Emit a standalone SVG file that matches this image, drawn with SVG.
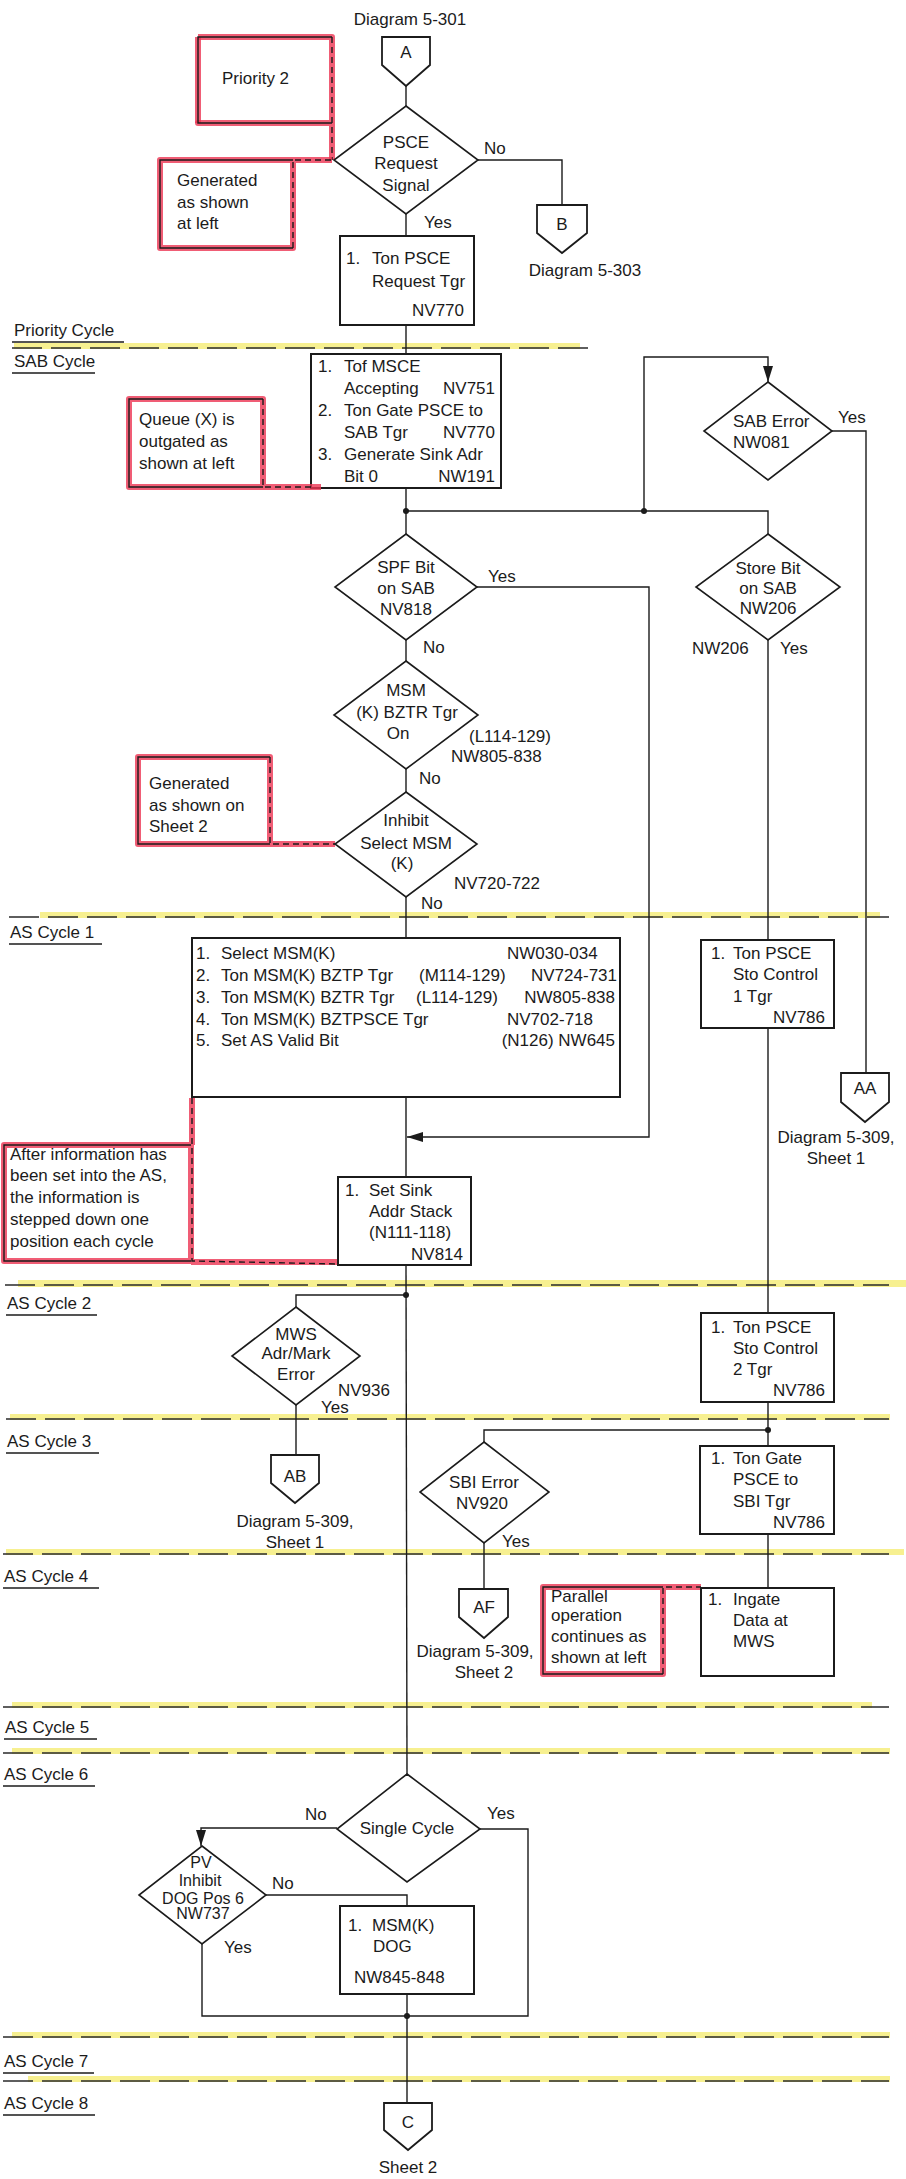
<svg xmlns="http://www.w3.org/2000/svg" width="906" height="2179" viewBox="0 0 906 2179">
<style>
  .bg{fill:#fff}
  .box{fill:#fff;stroke:#1b1b1b;stroke-width:2}
  .dia{fill:#fff;stroke:#1b1b1b;stroke-width:1.6}
  .off{fill:#fff;stroke:#1b1b1b;stroke-width:1.8}
  .ln{fill:none;stroke:#1b1b1b;stroke-width:1.4}
  .dash{stroke-dasharray:6 4}
  .hl{fill:none;stroke:#ec3552;stroke-width:6;stroke-opacity:.8;stroke-linejoin:round}
  .cyc{fill:none;stroke:#2a2a2a;stroke-width:1.6;stroke-dasharray:30 9}
  .yel{fill:#f5ec74;opacity:.8}
  .ul{stroke:#1b1b1b;stroke-width:1.6}
  .dot{fill:#1b1b1b}
  text{font-family:"Liberation Sans",Arial,sans-serif;font-size:17px;fill:#1b1b1b}
  .m{text-anchor:middle}
  .e{text-anchor:end}
  .s{font-size:16px}
</style>
<defs>
  <marker id="arrow" viewBox="0 0 16 10" markerWidth="16" markerHeight="10" refX="16" refY="5" orient="auto" markerUnits="userSpaceOnUse">
    <path d="M0,0 L16,5 L0,10 Z" fill="#1b1b1b"/>
  </marker>
</defs>
<rect class="bg" x="0" y="0" width="906" height="2179"/>

<!-- cycle boundaries -->
<g id="cycles">
  <rect class="yel" x="14" y="343" width="566" height="6"/>
  <line class="cyc" x1="12" y1="348" x2="588" y2="348"/>
  <text x="14" y="336">Priority Cycle</text><line class="ul" x1="12" y1="342" x2="124" y2="342"/>
  <text x="14" y="367">SAB Cycle</text><line class="ul" x1="12" y1="373" x2="95" y2="373"/>

  <rect class="yel" x="40" y="912" width="840" height="6"/>
  <line class="cyc" x1="9" y1="917" x2="889" y2="917"/>
  <text x="10" y="938">AS Cycle 1</text><line class="ul" x1="9" y1="944" x2="102" y2="944"/>

  <rect class="yel" x="18" y="1280" width="888" height="7"/>
  <line class="cyc" x1="5" y1="1285" x2="889" y2="1285"/>
  <text x="7" y="1309">AS Cycle 2</text><line class="ul" x1="6" y1="1315" x2="97" y2="1315"/>

  <rect class="yel" x="10" y="1414" width="880" height="6"/>
  <line class="cyc" x1="6" y1="1419" x2="889" y2="1419"/>
  <text x="7" y="1447">AS Cycle 3</text><line class="ul" x1="6" y1="1453" x2="99" y2="1453"/>

  <rect class="yel" x="6" y="1549" width="898" height="6"/>
  <line class="cyc" x1="3" y1="1554" x2="889" y2="1554"/>
  <text x="4" y="1582">AS Cycle 4</text><line class="ul" x1="3" y1="1588" x2="99" y2="1588"/>

  <rect class="yel" x="12" y="1702" width="860" height="6"/>
  <line class="cyc" x1="3" y1="1707" x2="889" y2="1707"/>
  <text x="5" y="1733">AS Cycle 5</text><line class="ul" x1="4" y1="1739" x2="97" y2="1739"/>

  <rect class="yel" x="12" y="1748" width="878" height="6"/>
  <line class="cyc" x1="3" y1="1753" x2="889" y2="1753"/>
  <text x="4" y="1780">AS Cycle 6</text><line class="ul" x1="3" y1="1786" x2="95" y2="1786"/>

  <rect class="yel" x="12" y="2032" width="878" height="6"/>
  <line class="cyc" x1="3" y1="2037" x2="889" y2="2037"/>
  <text x="4" y="2067">AS Cycle 7</text><line class="ul" x1="3" y1="2073" x2="94" y2="2073"/>

  <rect class="yel" x="28" y="2076" width="862" height="6"/>
  <line class="cyc" x1="3" y1="2081" x2="889" y2="2081"/>
  <text x="4" y="2109">AS Cycle 8</text><line class="ul" x1="3" y1="2115" x2="95" y2="2115"/>
</g>

<!-- flow lines -->
<g id="connectors">
  <path class="ln" d="M406,86 V106"/>
  <path class="ln" d="M478,160 H562 V205"/>
  <path class="ln" d="M406,214 V236"/>
  <path class="ln" d="M406,325 V354"/>
  <path class="ln" d="M406,488 V534"/>
  <path class="ln" d="M406,511 H768 V534"/>
  <path class="ln" d="M644,511 V357 H768 V382" marker-end="url(#arrow)"/>
  <path class="ln" d="M832,431 H866 V1073"/>
  <path class="ln" d="M768,640 V940"/>
  <path class="ln" d="M768,1028 V1313"/>
  <path class="ln" d="M768,1402 V1446"/>
  <path class="ln" d="M768,1430 H484 V1442"/>
  <path class="ln" d="M768,1534 V1588"/>
  <path class="ln" d="M484,1543 V1589"/>
  <path class="ln" d="M477,587 H649 V1137 H407" marker-end="url(#arrow)"/>
  <path class="ln" d="M406,640 V661"/>
  <path class="ln" d="M406,769 V792"/>
  <path class="ln" d="M406,897 V938"/>
  <path class="ln" d="M406,1097 V1177"/>
  <path class="ln" d="M406,1265 L407,1774"/>
  <path class="ln" d="M406,1295 H296 V1307"/>
  <path class="ln" d="M296,1405 V1455"/>
  <path class="ln" d="M337,1828 H201 V1846" marker-end="url(#arrow)"/>
  <path class="ln" d="M480,1829 H528 V2016 H407"/>
  <path class="ln" d="M266,1895 H407 V1906"/>
  <path class="ln" d="M202,1944 V2016 H407"/>
  <path class="ln" d="M407,1994 V2103"/>
  <circle class="dot" cx="406" cy="511" r="3"/>
  <circle class="dot" cx="644" cy="511" r="3"/>
  <circle class="dot" cx="406" cy="1295" r="3"/>
  <circle class="dot" cx="768" cy="1430" r="3"/>
  <circle class="dot" cx="407" cy="2016" r="3"/>
</g>

<!-- entry connector A -->
<g id="conn-A">
  <text class="m" x="410" y="25">Diagram 5-301</text>
  <path class="off" d="M382,37 H430 V65 L406,86 L382,65 Z"/>
  <text class="m" x="406" y="58">A</text>
</g>

<!-- annotation: Priority 2 -->
<g id="note-priority2">
  <path class="hl" d="M198,37 H332 V160 M332,123 H198 Z"/>
  <path class="hl" d="M198,37 V123"/>
  <path class="ln" d="M332,37 H198 V123 H332"/>
  <path class="ln dash" d="M332,37 V160"/>
  <text x="222" y="84">Priority 2</text>
</g>

<!-- annotation: generated as shown at left -->
<g id="note-generated-left">
  <path class="hl" d="M293,160 H160 V248 H293 Z M293,160 H332"/>
  <path class="ln" d="M293,160 H160 V248 H293"/>
  <path class="ln dash" d="M293,248 V160 H334"/>
  <text x="177" y="186">Generated</text>
  <text x="177" y="208">as shown</text>
  <text x="177" y="229">at left</text>
</g>

<g id="dec-psce">
  <path class="dia" d="M406,106 L478,160 L406,214 L334,160 Z"/>
  <text class="m" x="406" y="148">PSCE</text>
  <text class="m" x="406" y="169">Request</text>
  <text class="m" x="406" y="191">Signal</text>
  <text x="484" y="154">No</text>
  <text x="424" y="228">Yes</text>
</g>

<g id="conn-B">
  <path class="off" d="M537,205 H587 V233 L562,253 L537,233 Z"/>
  <text class="m" x="562" y="230">B</text>
  <text class="m" x="585" y="276">Diagram 5-303</text>
</g>

<g id="box-ton-psce-request">
  <rect class="box" x="340" y="236" width="134" height="89"/>
  <text x="346" y="264">1.</text>
  <text x="372" y="264">Ton PSCE</text>
  <text x="372" y="287">Request Tgr</text>
  <text class="e" x="464" y="316">NV770</text>
</g>

<g id="box-sab-cycle">
  <rect class="box" x="311" y="354" width="190" height="134"/>
  <text x="318" y="372">1.</text><text x="344" y="372">Tof MSCE</text>
  <text x="344" y="394">Accepting</text><text class="e" x="495" y="394">NV751</text>
  <text x="318" y="416">2.</text><text x="344" y="416">Ton Gate PSCE to</text>
  <text x="344" y="438">SAB Tgr</text><text class="e" x="495" y="438">NV770</text>
  <text x="318" y="460">3.</text><text x="344" y="460">Generate Sink Adr</text>
  <text x="344" y="482">Bit 0</text><text class="e" x="495" y="482">NW191</text>
</g>

<!-- annotation: queue outgated -->
<g id="note-queue">
  <path class="hl" d="M263,399 H129 V487 H263 Z M263,487 H321"/>
  <path class="ln" d="M263,399 H129 V487 H263"/>
  <path class="ln dash" d="M263,399 V487 H311"/>
  <text x="139" y="425">Queue (X) is</text>
  <text x="139" y="447">outgated as</text>
  <text x="139" y="469">shown at left</text>
</g>

<g id="dec-sab-error">
  <path class="dia" d="M768,382 L832,431 L768,480 L704,431 Z"/>
  <text x="733" y="427">SAB Error</text>
  <text x="733" y="448">NW081</text>
  <text x="838" y="423">Yes</text>
</g>

<g id="dec-store-bit">
  <path class="dia" d="M768,534 L840,587 L768,640 L696,587 Z"/>
  <text class="m" x="768" y="574">Store Bit</text>
  <text class="m" x="768" y="594">on SAB</text>
  <text class="m" x="768" y="614">NW206</text>
  <text x="692" y="654">NW206</text>
  <text x="780" y="654">Yes</text>
</g>

<g id="dec-spf-bit">
  <path class="dia" d="M406,534 L477,587 L406,640 L335,587 Z"/>
  <text class="m" x="406" y="573">SPF Bit</text>
  <text class="m" x="406" y="594">on SAB</text>
  <text class="m" x="406" y="615">NV818</text>
  <text x="488" y="582">Yes</text>
  <text x="423" y="653">No</text>
</g>

<g id="dec-msm-bztr">
  <path class="dia" d="M406,661 L478,715 L406,769 L334,715 Z"/>
  <text class="m" x="406" y="696">MSM</text>
  <text class="m" x="407" y="718">(K) BZTR Tgr</text>
  <text class="m" x="398" y="739">On</text>
  <text x="469" y="742">(L114-129)</text>
  <text x="451" y="762">NW805-838</text>
  <text x="419" y="784">No</text>
</g>

<!-- annotation: generated as shown on sheet 2 -->
<g id="note-generated-sheet2">
  <path class="hl" d="M270,757 H138 V844 H270 Z M270,844 H335"/>
  <path class="ln" d="M270,757 H138 V844 H270"/>
  <path class="ln dash" d="M270,757 V844 H335"/>
  <text x="149" y="789">Generated</text>
  <text x="149" y="811">as shown on</text>
  <text x="149" y="832">Sheet 2</text>
</g>

<g id="dec-inhibit-select">
  <path class="dia" d="M406,792 L477,844 L406,897 L335,844 Z"/>
  <text class="m" x="406" y="826">Inhibit</text>
  <text class="m" x="406" y="849">Select MSM</text>
  <text class="m" x="402" y="869">(K)</text>
  <text x="454" y="889">NV720-722</text>
  <text x="421" y="909">No</text>
</g>

<g id="box-select-msm">
  <rect class="box" x="192" y="938" width="428" height="159"/>
  <text x="196" y="959">1.</text><text x="221" y="959">Select MSM(K)</text><text x="507" y="959">NW030-034</text>
  <text x="196" y="981">2.</text><text x="221" y="981">Ton MSM(K) BZTP Tgr</text><text x="419" y="981">(M114-129)</text><text class="e" x="617" y="981">NV724-731</text>
  <text x="196" y="1003">3.</text><text x="221" y="1003">Ton MSM(K) BZTR Tgr</text><text x="416" y="1003">(L114-129)</text><text class="e" x="615" y="1003">NW805-838</text>
  <text x="196" y="1025">4.</text><text x="221" y="1025">Ton MSM(K) BZTPSCE Tgr</text><text x="507" y="1025">NV702-718</text>
  <text x="196" y="1046">5.</text><text x="221" y="1046">Set AS Valid Bit</text><text class="e" x="615" y="1046">(N126) NW645</text>
</g>

<g id="box-sto-control-1">
  <rect class="box" x="701" y="940" width="133" height="88"/>
  <text x="711" y="959">1.</text><text x="733" y="959">Ton PSCE</text>
  <text x="733" y="980">Sto Control</text>
  <text x="733" y="1002">1 Tgr</text>
  <text class="e" x="825" y="1023">NV786</text>
</g>

<g id="conn-AA">
  <path class="off" d="M841,1073 H889 V1102 L865,1122 L841,1102 Z"/>
  <text class="m" x="865" y="1094">AA</text>
  <text class="m" x="836" y="1143">Diagram 5-309,</text>
  <text class="m" x="836" y="1164">Sheet 1</text>
</g>

<!-- annotation: address stack stepping -->
<g id="note-after-info">
  <path class="hl" d="M191,1145 H4 V1261 H191 Z M192,1098 V1145 M191,1262 H338"/>
  <path class="ln" d="M191,1145 H4 V1261 H191"/>
  <path class="ln dash" d="M192,1098 V1261 L338,1264"/>
  <text x="10" y="1160">After information has</text>
  <text x="10" y="1181">been set into the AS,</text>
  <text x="10" y="1203">the information is</text>
  <text x="10" y="1225">stepped down one</text>
  <text x="10" y="1247">position each cycle</text>
</g>

<g id="box-set-sink">
  <rect class="box" x="338" y="1177" width="133" height="88"/>
  <text x="345" y="1196">1.</text><text x="369" y="1196">Set Sink</text>
  <text x="369" y="1217">Addr Stack</text>
  <text x="369" y="1238">(N111-118)</text>
  <text class="e" x="463" y="1260">NV814</text>
</g>

<g id="dec-mws-error">
  <path class="dia" d="M296,1307 L360,1356 L296,1405 L232,1356 Z"/>
  <text class="m" x="296" y="1340">MWS</text>
  <text class="m" x="296" y="1359">Adr/Mark</text>
  <text class="m" x="296" y="1380">Error</text>
  <text x="338" y="1396">NV936</text>
  <text x="321" y="1413">Yes</text>
</g>

<g id="conn-AB">
  <path class="off" d="M271,1455 H319 V1483 L295,1503 L271,1483 Z"/>
  <text class="m" x="295" y="1482">AB</text>
  <text class="m" x="295" y="1527">Diagram 5-309,</text>
  <text class="m" x="295" y="1548">Sheet 1</text>
</g>

<g id="box-sto-control-2">
  <rect class="box" x="701" y="1313" width="133" height="89"/>
  <text x="711" y="1333">1.</text><text x="733" y="1333">Ton PSCE</text>
  <text x="733" y="1354">Sto Control</text>
  <text x="733" y="1375">2 Tgr</text>
  <text class="e" x="825" y="1396">NV786</text>
</g>

<g id="dec-sbi-error">
  <path class="dia" d="M484,1442 L549,1492 L484,1543 L420,1492 Z"/>
  <text class="m" x="484" y="1488">SBI Error</text>
  <text class="m" x="482" y="1509">NV920</text>
  <text x="502" y="1547">Yes</text>
</g>

<g id="box-gate-sbi">
  <rect class="box" x="700" y="1446" width="134" height="88"/>
  <text x="711" y="1464">1.</text><text x="733" y="1464">Ton Gate</text>
  <text x="733" y="1485">PSCE to</text>
  <text x="733" y="1507">SBI Tgr</text>
  <text class="e" x="825" y="1528">NV786</text>
</g>

<g id="conn-AF">
  <path class="off" d="M459,1589 H508 V1617 L484,1638 L459,1617 Z"/>
  <text class="m" x="484" y="1613">AF</text>
  <text class="m" x="475" y="1657">Diagram 5-309,</text>
  <text class="m" x="484" y="1678">Sheet 2</text>
</g>

<!-- annotation: parallel operation -->
<g id="note-parallel">
  <path class="hl" d="M663,1587 H543 V1674 H663 Z M663,1587 H701"/>
  <path class="ln" d="M663,1587 H543 V1674 H663"/>
  <path class="ln dash" d="M663,1674 V1587 H701"/>
  <text x="551" y="1602">Parallel</text>
  <text x="551" y="1621">operation</text>
  <text x="551" y="1642">continues as</text>
  <text x="551" y="1663">shown at left</text>
</g>

<g id="box-ingate">
  <rect class="box" x="701" y="1588" width="133" height="88"/>
  <text x="708" y="1605">1.</text><text x="733" y="1605">Ingate</text>
  <text x="733" y="1626">Data at</text>
  <text x="733" y="1647">MWS</text>
</g>

<g id="dec-single-cycle">
  <path class="dia" d="M407,1774 L480,1829 L407,1882 L337,1829 Z"/>
  <text class="m" x="407" y="1834">Single Cycle</text>
  <text x="305" y="1820">No</text>
  <text x="487" y="1819">Yes</text>
</g>

<g id="dec-pv-inhibit">
  <path class="dia" d="M202,1846 L266,1895 L202,1944 L139,1895 Z"/>
  <text class="m s" x="201" y="1868">PV</text>
  <text class="m s" x="200" y="1886">Inhibit</text>
  <text class="m s" x="203" y="1904">DOG Pos 6</text>
  <text class="m s" x="203" y="1919">NW737</text>
  <text x="272" y="1889">No</text>
  <text x="224" y="1953">Yes</text>
</g>

<g id="box-msm-dog">
  <rect class="box" x="340" y="1906" width="134" height="88"/>
  <text x="348" y="1931">1.</text><text x="372" y="1931">MSM(K)</text>
  <text x="373" y="1952">DOG</text>
  <text x="354" y="1983">NW845-848</text>
</g>

<g id="conn-C">
  <path class="off" d="M384,2103 H432 V2130 L408,2150 L384,2130 Z"/>
  <text class="m" x="408" y="2128">C</text>
  <text class="m" x="408" y="2173">Sheet 2</text>
</g>
</svg>
